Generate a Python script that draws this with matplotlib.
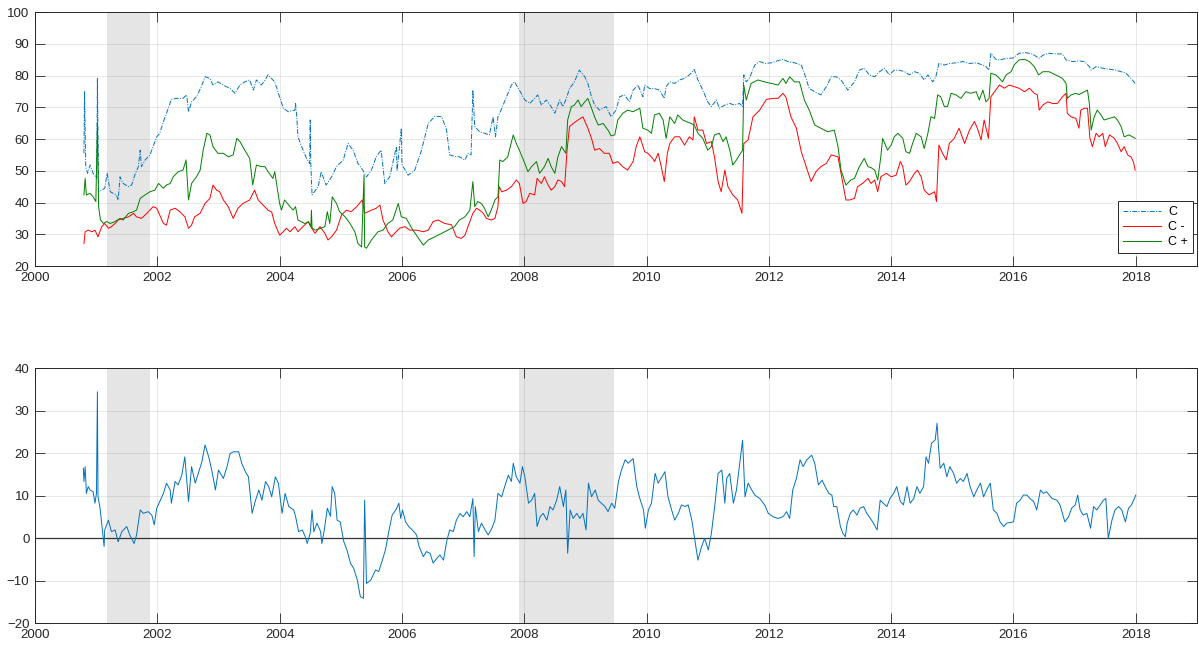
import matplotlib
matplotlib.use("Agg")
import matplotlib.pyplot as plt

plt.rcParams["font.family"] = ["Liberation Sans", "DejaVu Sans"]

# ---------------------------------------------------------------
# Data (decimal years, values)
# ---------------------------------------------------------------
RECESSIONS = [(2001.17, 2001.88), (2007.92, 2009.46)]

c_pts = [
    (2000.80, 55.5), (2000.81, 74.9), (2000.83, 51.3), (2000.86, 49.2), (2000.90, 51.8),
    (2000.95, 49.2), (2001.01, 47.6), (2001.02, 79.1), (2001.04, 43.4), (2001.09, 43.9),
    (2001.14, 44.5), (2001.18, 49.2), (2001.23, 43.4), (2001.28, 42.9), (2001.33, 42.4),
    (2001.36, 40.8), (2001.39, 48.1), (2001.44, 46.0), (2001.53, 45.0), (2001.58, 45.5),
    (2001.63, 48.6), (2001.69, 51.3), (2001.72, 56.5), (2001.74, 51.3), (2001.80, 53.4),
    (2001.88, 55.0), (2001.93, 57.6), (2001.99, 60.7), (2002.04, 61.8), (2002.10, 65.5),
    (2002.15, 68.1), (2002.23, 72.5), (2002.31, 72.8), (2002.42, 72.8), (2002.48, 73.9),
    (2002.51, 68.6), (2002.56, 71.7), (2002.64, 73.3), (2002.72, 76.5), (2002.78, 79.6),
    (2002.86, 79.1), (2002.91, 77.0), (2002.99, 78.0), (2003.08, 77.0), (2003.19, 75.9),
    (2003.27, 74.4), (2003.35, 77.0), (2003.43, 78.0), (2003.51, 78.6), (2003.57, 75.4),
    (2003.62, 78.6), (2003.70, 77.0), (2003.76, 78.5), (2003.81, 80.2), (2003.92, 78.0),
    (2004.00, 73.3), (2004.06, 69.7), (2004.14, 68.6), (2004.25, 69.1), (2004.26, 71.2),
    (2004.28, 67.0), (2004.30, 60.7), (2004.36, 57.6), (2004.44, 53.9), (2004.49, 52.3),
    (2004.50, 66.0), (2004.51, 52.0), (2004.53, 42.4), (2004.63, 45.0), (2004.68, 49.7),
    (2004.76, 45.5), (2004.85, 48.1), (2004.93, 51.3), (2005.04, 53.4), (2005.12, 58.6),
    (2005.20, 56.5), (2005.28, 52.3), (2005.36, 50.2), (2005.42, 48.1), (2005.50, 50.2),
    (2005.58, 54.4), (2005.66, 56.5), (2005.72, 46.0), (2005.80, 48.1), (2005.91, 57.6),
    (2005.92, 50.0), (2005.99, 63.4), (2006.00, 52.0), (2006.02, 51.3), (2006.10, 48.6),
    (2006.21, 50.2), (2006.32, 56.5), (2006.43, 64.9), (2006.54, 67.2), (2006.65, 67.0),
    (2006.73, 62.8), (2006.78, 55.0), (2006.89, 54.4), (2006.94, 54.4), (2007.03, 53.4),
    (2007.08, 55.5), (2007.13, 55.0), (2007.16, 75.4), (2007.19, 63.9), (2007.27, 62.3),
    (2007.35, 61.8), (2007.43, 61.3), (2007.49, 67.0), (2007.53, 60.7), (2007.57, 67.0),
    (2007.62, 69.1), (2007.71, 73.3), (2007.79, 77.0), (2007.84, 78.0), (2007.92, 75.4),
    (2008.01, 72.3), (2008.09, 71.2), (2008.17, 72.8), (2008.22, 73.9), (2008.28, 70.7),
    (2008.36, 72.3), (2008.44, 70.2), (2008.50, 68.1), (2008.58, 72.3), (2008.63, 70.2),
    (2008.69, 72.8), (2008.74, 75.9), (2008.82, 78.0), (2008.90, 81.7), (2008.99, 79.6),
    (2009.04, 77.5), (2009.10, 73.3), (2009.15, 70.7), (2009.23, 69.1), (2009.34, 70.2),
    (2009.42, 67.0), (2009.50, 69.1), (2009.56, 73.3), (2009.64, 73.9), (2009.72, 71.7),
    (2009.78, 75.4), (2009.86, 77.0), (2009.94, 73.3), (2009.97, 77.0), (2010.05, 75.9),
    (2010.13, 75.9), (2010.21, 75.4), (2010.29, 72.8), (2010.32, 76.5), (2010.38, 78.0),
    (2010.46, 77.5), (2010.54, 78.6), (2010.62, 79.1), (2010.70, 80.2), (2010.78, 81.9),
    (2010.84, 78.6), (2010.92, 75.4), (2011.00, 71.7), (2011.06, 70.2), (2011.14, 72.3),
    (2011.19, 69.7), (2011.28, 70.7), (2011.36, 71.2), (2011.44, 70.7), (2011.52, 71.2),
    (2011.57, 70.2), (2011.59, 80.2), (2011.63, 78.0), (2011.68, 79.1), (2011.77, 83.3),
    (2011.85, 84.4), (2011.93, 83.8), (2012.04, 84.0), (2012.15, 84.7), (2012.23, 85.1),
    (2012.31, 84.4), (2012.42, 84.0), (2012.53, 83.3), (2012.58, 80.7), (2012.66, 75.9),
    (2012.75, 74.9), (2012.85, 73.9), (2012.94, 76.5), (2013.02, 79.6), (2013.10, 79.6),
    (2013.18, 78.6), (2013.29, 75.4), (2013.40, 78.0), (2013.48, 81.7), (2013.56, 82.3),
    (2013.64, 80.2), (2013.73, 79.6), (2013.81, 81.2), (2013.89, 82.3), (2013.97, 80.2),
    (2014.05, 81.7), (2014.13, 81.7), (2014.22, 81.2), (2014.30, 80.2), (2014.38, 81.2),
    (2014.46, 80.7), (2014.54, 78.6), (2014.60, 80.2), (2014.68, 78.0), (2014.73, 79.6),
    (2014.78, 83.8), (2014.87, 83.3), (2014.95, 83.8), (2015.06, 84.0), (2015.17, 84.4),
    (2015.28, 83.8), (2015.39, 84.0), (2015.50, 83.3), (2015.55, 82.8), (2015.60, 81.7),
    (2015.63, 87.0), (2015.71, 85.1), (2015.77, 84.9), (2015.88, 85.4), (2015.99, 85.5),
    (2016.09, 87.0), (2016.20, 87.2), (2016.31, 86.8), (2016.42, 85.4), (2016.48, 86.4),
    (2016.58, 87.0), (2016.69, 86.8), (2016.80, 86.8), (2016.86, 84.9), (2016.97, 84.4),
    (2017.07, 84.6), (2017.16, 84.4), (2017.24, 82.8), (2017.27, 81.7), (2017.35, 82.8),
    (2017.46, 82.3), (2017.57, 82.0), (2017.67, 81.7), (2017.76, 81.2), (2017.84, 80.7),
    (2017.92, 79.1), (2017.99, 77.5),
]

cminus_pts = [
    (2000.80, 27.1), (2000.82, 30.8), (2000.87, 31.3), (2000.93, 30.8), (2000.98, 31.3),
    (2001.03, 29.2), (2001.09, 32.4), (2001.14, 33.4), (2001.20, 31.9), (2001.25, 32.4),
    (2001.31, 33.4), (2001.36, 34.5), (2001.44, 35.0), (2001.53, 35.5), (2001.61, 36.6),
    (2001.66, 35.5), (2001.74, 35.0), (2001.83, 36.6), (2001.93, 38.7), (2001.99, 38.2),
    (2002.04, 36.0), (2002.10, 33.4), (2002.15, 32.9), (2002.21, 37.6), (2002.29, 38.2),
    (2002.37, 37.1), (2002.45, 35.5), (2002.51, 31.9), (2002.56, 32.9), (2002.61, 35.5),
    (2002.70, 36.6), (2002.78, 39.7), (2002.86, 41.3), (2002.91, 45.5), (2002.97, 43.9),
    (2003.02, 43.4), (2003.08, 40.8), (2003.16, 38.7), (2003.24, 35.0), (2003.32, 38.2),
    (2003.40, 39.7), (2003.51, 40.8), (2003.59, 43.9), (2003.65, 40.8), (2003.73, 39.2),
    (2003.81, 37.6), (2003.87, 37.0), (2003.92, 33.4), (2004.00, 29.7), (2004.06, 30.8),
    (2004.11, 31.9), (2004.17, 30.8), (2004.25, 32.4), (2004.30, 30.8), (2004.38, 32.4),
    (2004.47, 34.0), (2004.52, 32.0), (2004.58, 30.3), (2004.66, 32.4), (2004.74, 30.3),
    (2004.79, 28.2), (2004.85, 29.2), (2004.93, 31.3), (2005.01, 36.0), (2005.09, 37.6),
    (2005.17, 37.1), (2005.26, 38.7), (2005.35, 40.8), (2005.39, 36.6), (2005.50, 37.6),
    (2005.58, 38.2), (2005.64, 39.2), (2005.69, 34.5), (2005.77, 30.8), (2005.83, 29.2),
    (2005.88, 30.3), (2005.96, 31.9), (2006.05, 32.4), (2006.13, 31.3), (2006.24, 31.3),
    (2006.35, 30.8), (2006.43, 31.3), (2006.51, 34.0), (2006.59, 34.5), (2006.70, 33.4),
    (2006.81, 33.0), (2006.89, 29.2), (2006.97, 28.7), (2007.03, 29.7), (2007.08, 32.4),
    (2007.16, 36.6), (2007.22, 38.2), (2007.27, 37.6), (2007.33, 36.6), (2007.38, 35.0),
    (2007.46, 34.5), (2007.52, 35.0), (2007.57, 38.7), (2007.59, 45.0), (2007.63, 43.4),
    (2007.71, 43.9), (2007.79, 45.0), (2007.87, 47.1), (2007.92, 46.0), (2007.98, 39.7),
    (2008.03, 40.3), (2008.09, 42.9), (2008.17, 42.4), (2008.21, 47.6), (2008.28, 46.0),
    (2008.33, 48.1), (2008.39, 45.5), (2008.44, 43.9), (2008.50, 45.0), (2008.55, 47.1),
    (2008.61, 46.6), (2008.66, 45.0), (2008.70, 56.5), (2008.74, 63.9), (2008.80, 64.9),
    (2008.88, 66.0), (2008.96, 67.0), (2009.04, 63.4), (2009.10, 60.2), (2009.15, 56.5),
    (2009.23, 57.0), (2009.31, 55.5), (2009.39, 55.5), (2009.45, 52.3), (2009.53, 52.9),
    (2009.61, 51.3), (2009.69, 50.2), (2009.78, 52.9), (2009.83, 57.6), (2009.89, 60.7),
    (2009.97, 56.0), (2010.02, 55.5), (2010.10, 53.9), (2010.13, 52.9), (2010.19, 55.5),
    (2010.24, 51.3), (2010.29, 46.6), (2010.34, 55.5), (2010.38, 58.6), (2010.46, 60.7),
    (2010.54, 60.7), (2010.62, 58.1), (2010.70, 60.7), (2010.76, 59.7), (2010.78, 67.0),
    (2010.84, 62.8), (2010.92, 62.8), (2010.98, 58.6), (2011.06, 59.2), (2011.11, 54.4),
    (2011.17, 46.6), (2011.22, 43.4), (2011.28, 50.2), (2011.33, 45.0), (2011.41, 42.4),
    (2011.49, 40.8), (2011.56, 36.6), (2011.59, 58.6), (2011.66, 59.7), (2011.74, 67.0),
    (2011.85, 69.1), (2011.96, 72.5), (2012.07, 72.8), (2012.15, 72.8), (2012.23, 74.4),
    (2012.28, 73.1), (2012.36, 67.0), (2012.45, 63.4), (2012.53, 56.0), (2012.61, 51.3),
    (2012.69, 46.6), (2012.77, 49.7), (2012.85, 51.3), (2012.94, 52.3), (2013.02, 55.0),
    (2013.13, 54.4), (2013.18, 49.2), (2013.26, 40.8), (2013.32, 40.8), (2013.40, 41.3),
    (2013.45, 45.0), (2013.53, 46.0), (2013.62, 47.6), (2013.67, 46.0), (2013.73, 47.1),
    (2013.78, 43.4), (2013.83, 48.1), (2013.92, 49.2), (2014.00, 48.1), (2014.08, 48.6),
    (2014.15, 52.9), (2014.19, 51.3), (2014.24, 45.5), (2014.30, 46.6), (2014.38, 49.2),
    (2014.43, 50.2), (2014.49, 48.1), (2014.54, 43.9), (2014.62, 42.4), (2014.71, 43.4),
    (2014.74, 40.3), (2014.78, 58.1), (2014.84, 55.5), (2014.90, 53.4), (2014.95, 58.6),
    (2015.03, 60.2), (2015.11, 63.4), (2015.20, 58.6), (2015.28, 62.8), (2015.36, 65.5),
    (2015.41, 63.4), (2015.47, 59.7), (2015.52, 66.0), (2015.59, 60.2), (2015.63, 73.3),
    (2015.71, 75.4), (2015.77, 77.0), (2015.85, 76.0), (2015.93, 77.0), (2016.01, 76.5),
    (2016.09, 76.0), (2016.18, 74.9), (2016.26, 76.0), (2016.34, 74.4), (2016.39, 73.9),
    (2016.42, 69.1), (2016.48, 70.7), (2016.56, 71.7), (2016.64, 71.2), (2016.72, 71.2),
    (2016.80, 73.3), (2016.86, 74.4), (2016.88, 68.1), (2016.94, 67.0), (2017.02, 66.5),
    (2017.07, 63.4), (2017.10, 69.1), (2017.16, 69.7), (2017.21, 69.7), (2017.25, 60.2),
    (2017.29, 57.6), (2017.35, 61.8), (2017.40, 60.7), (2017.46, 61.8), (2017.50, 57.6),
    (2017.57, 61.3), (2017.65, 60.2), (2017.70, 58.6), (2017.76, 56.0), (2017.81, 57.6),
    (2017.87, 54.9), (2017.92, 54.4), (2017.96, 52.9), (2017.99, 50.2),
]

cplus_pts = [
    (2000.80, 42.4), (2000.82, 47.6), (2000.84, 42.4), (2000.90, 42.9), (2000.95, 41.8),
    (2000.995, 40.3), (2001.02, 65.0), (2001.04, 38.7), (2001.07, 34.5), (2001.12, 33.4),
    (2001.17, 34.0), (2001.23, 33.4), (2001.31, 34.0), (2001.39, 35.0), (2001.44, 34.5),
    (2001.53, 36.6), (2001.61, 37.1), (2001.66, 37.6), (2001.72, 41.3), (2001.80, 42.4),
    (2001.88, 43.4), (2001.96, 43.9), (2002.02, 46.0), (2002.10, 44.5), (2002.15, 45.5),
    (2002.21, 46.0), (2002.26, 48.1), (2002.34, 49.7), (2002.42, 50.2), (2002.47, 53.4),
    (2002.51, 40.8), (2002.56, 46.0), (2002.64, 48.1), (2002.70, 50.2), (2002.75, 56.5),
    (2002.81, 61.8), (2002.86, 61.3), (2002.91, 57.6), (2002.99, 55.5), (2003.08, 55.5),
    (2003.16, 54.4), (2003.24, 55.0), (2003.30, 60.2), (2003.35, 59.2), (2003.43, 56.5),
    (2003.51, 53.9), (2003.56, 45.5), (2003.62, 51.8), (2003.70, 51.3), (2003.76, 51.3),
    (2003.81, 49.7), (2003.89, 47.6), (2003.92, 49.7), (2004.00, 39.7), (2004.03, 37.6),
    (2004.08, 40.8), (2004.17, 38.7), (2004.22, 37.6), (2004.26, 38.7), (2004.30, 34.5),
    (2004.41, 33.4), (2004.47, 33.9), (2004.51, 32.4), (2004.52, 37.6), (2004.53, 32.0),
    (2004.58, 31.3), (2004.66, 31.8), (2004.74, 32.4), (2004.78, 37.1), (2004.82, 33.4),
    (2004.86, 41.8), (2004.93, 39.7), (2004.98, 37.1), (2005.07, 35.5), (2005.15, 33.4),
    (2005.23, 30.8), (2005.28, 27.1), (2005.34, 26.0), (2005.38, 48.7), (2005.39, 26.0),
    (2005.42, 25.6), (2005.50, 28.2), (2005.61, 30.8), (2005.69, 31.3), (2005.77, 33.4),
    (2005.85, 34.5), (2005.94, 39.7), (2005.99, 35.5), (2006.07, 35.0), (2006.18, 31.3),
    (2006.29, 28.2), (2006.35, 26.6), (2006.43, 28.2), (2006.54, 29.2), (2006.65, 30.3),
    (2006.75, 31.3), (2006.86, 32.4), (2006.94, 34.5), (2007.03, 35.5), (2007.11, 37.6),
    (2007.16, 46.6), (2007.19, 38.7), (2007.24, 40.3), (2007.30, 39.7), (2007.35, 38.2),
    (2007.41, 35.5), (2007.46, 37.6), (2007.52, 40.8), (2007.57, 41.8), (2007.60, 53.4),
    (2007.65, 52.9), (2007.73, 54.4), (2007.82, 61.3), (2007.87, 58.6), (2007.92, 56.5),
    (2008.01, 52.3), (2008.06, 49.7), (2008.12, 51.3), (2008.20, 52.9), (2008.25, 49.2),
    (2008.33, 51.3), (2008.39, 53.9), (2008.44, 51.3), (2008.50, 49.2), (2008.55, 54.4),
    (2008.61, 57.6), (2008.68, 55.5), (2008.71, 66.0), (2008.77, 70.2), (2008.82, 70.7),
    (2008.88, 72.3), (2008.93, 70.2), (2008.99, 71.7), (2009.04, 72.8), (2009.10, 69.7),
    (2009.15, 67.0), (2009.21, 64.4), (2009.29, 64.9), (2009.37, 62.8), (2009.42, 61.0),
    (2009.48, 61.3), (2009.53, 66.0), (2009.61, 68.1), (2009.69, 69.1), (2009.78, 68.6),
    (2009.89, 69.7), (2009.94, 63.4), (2010.02, 62.8), (2010.08, 61.8), (2010.13, 67.6),
    (2010.21, 68.1), (2010.27, 66.0), (2010.32, 60.2), (2010.38, 67.0), (2010.46, 64.9),
    (2010.51, 67.6), (2010.59, 66.0), (2010.65, 65.5), (2010.73, 64.9), (2010.78, 64.4),
    (2010.84, 61.8), (2010.92, 60.2), (2011.00, 56.5), (2011.06, 57.6), (2011.11, 61.3),
    (2011.19, 61.8), (2011.25, 59.2), (2011.30, 60.7), (2011.36, 56.5), (2011.41, 51.8),
    (2011.47, 53.4), (2011.52, 55.0), (2011.57, 56.5), (2011.59, 77.0), (2011.63, 72.3),
    (2011.71, 77.5), (2011.82, 78.6), (2011.93, 78.0), (2012.04, 77.5), (2012.15, 77.0),
    (2012.23, 79.1), (2012.28, 77.5), (2012.34, 79.6), (2012.42, 78.0), (2012.50, 78.0),
    (2012.58, 72.3), (2012.66, 69.1), (2012.75, 64.4), (2012.85, 63.4), (2012.96, 62.3),
    (2013.07, 62.8), (2013.13, 57.6), (2013.18, 50.2), (2013.26, 45.5), (2013.34, 47.1),
    (2013.40, 47.6), (2013.48, 51.3), (2013.56, 53.9), (2013.62, 51.3), (2013.67, 51.0),
    (2013.73, 50.2), (2013.78, 47.1), (2013.83, 54.4), (2013.86, 60.2), (2013.94, 56.5),
    (2014.00, 58.1), (2014.05, 60.7), (2014.11, 61.8), (2014.19, 60.2), (2014.24, 56.0),
    (2014.30, 55.5), (2014.35, 58.6), (2014.41, 61.8), (2014.49, 60.7), (2014.54, 57.0),
    (2014.60, 61.8), (2014.65, 67.0), (2014.71, 66.5), (2014.76, 73.9), (2014.81, 73.3),
    (2014.87, 70.2), (2014.92, 70.2), (2014.98, 74.4), (2015.06, 73.9), (2015.14, 72.8),
    (2015.22, 74.9), (2015.30, 74.4), (2015.39, 74.9), (2015.44, 72.3), (2015.50, 75.4),
    (2015.55, 71.7), (2015.60, 72.8), (2015.63, 80.7), (2015.71, 80.2), (2015.77, 79.1),
    (2015.82, 78.0), (2015.88, 80.2), (2015.96, 81.2), (2016.01, 83.3), (2016.09, 84.9),
    (2016.18, 85.1), (2016.26, 84.4), (2016.34, 82.8), (2016.41, 80.2), (2016.48, 81.2),
    (2016.58, 81.2), (2016.69, 80.2), (2016.80, 79.1), (2016.86, 77.5), (2016.88, 72.8),
    (2016.94, 73.9), (2017.02, 74.4), (2017.07, 74.0), (2017.16, 74.9), (2017.21, 75.4),
    (2017.24, 71.2), (2017.27, 62.8), (2017.32, 67.0), (2017.37, 69.1), (2017.43, 67.6),
    (2017.48, 66.0), (2017.57, 66.5), (2017.65, 67.0), (2017.70, 66.0), (2017.76, 63.9),
    (2017.81, 60.7), (2017.89, 61.3), (2017.99, 60.2),
]

spread_pts = [
    (2000.79, 16.4), (2000.80, 13.3), (2000.82, 16.8), (2000.84, 10.5), (2000.87, 12.1),
    (2000.90, 11.3), (2000.95, 10.9), (2000.98, 8.2), (2001.005, 10.5), (2001.02, 34.4),
    (2001.03, 9.7), (2001.06, 7.4), (2001.09, 3.5), (2001.13, -2.0), (2001.14, 1.9),
    (2001.20, 4.2), (2001.25, 1.5), (2001.31, 1.9), (2001.36, -0.9), (2001.42, 1.5),
    (2001.50, 2.7), (2001.55, 0.7), (2001.62, -1.3), (2001.66, 0.7), (2001.72, 6.6),
    (2001.77, 5.8), (2001.85, 6.2), (2001.91, 5.4), (2001.95, 3.1), (2001.99, 7.0),
    (2002.04, 8.6), (2002.10, 10.5), (2002.15, 12.9), (2002.21, 11.3), (2002.23, 8.2),
    (2002.29, 13.3), (2002.34, 12.5), (2002.40, 14.8), (2002.45, 19.1), (2002.51, 8.6),
    (2002.56, 16.8), (2002.62, 12.9), (2002.67, 15.2), (2002.73, 18.0), (2002.78, 21.9),
    (2002.84, 19.1), (2002.89, 16.0), (2002.95, 11.3), (2003.00, 16.0), (2003.08, 14.0),
    (2003.14, 16.8), (2003.19, 19.9), (2003.25, 20.3), (2003.33, 20.3), (2003.38, 17.6),
    (2003.44, 15.6), (2003.49, 14.4), (2003.55, 5.8), (2003.60, 8.6), (2003.66, 11.3),
    (2003.71, 8.9), (2003.77, 13.3), (2003.82, 12.1), (2003.87, 9.7), (2003.93, 14.4),
    (2003.98, 12.9), (2004.04, 5.8), (2004.09, 10.5), (2004.15, 7.4), (2004.23, 6.6),
    (2004.26, 5.1), (2004.31, 1.5), (2004.37, 1.9), (2004.42, 0.3), (2004.45, -1.3),
    (2004.50, 1.1), (2004.53, 6.6), (2004.56, 1.5), (2004.61, 3.5), (2004.67, 1.5),
    (2004.69, -1.3), (2004.73, 1.9), (2004.78, 7.0), (2004.83, 5.1), (2004.86, 12.1),
    (2004.90, 10.5), (2004.94, 4.2), (2004.99, 3.8), (2005.05, -0.9), (2005.10, -2.8),
    (2005.16, -6.0), (2005.21, -7.1), (2005.27, -9.9), (2005.32, -13.8), (2005.37, -14.2),
    (2005.39, 8.9), (2005.42, -10.7), (2005.49, -9.9), (2005.57, -7.5), (2005.62, -7.9),
    (2005.68, -5.2), (2005.73, -2.8), (2005.79, 1.9), (2005.84, 5.4), (2005.90, 6.6),
    (2005.95, 8.2), (2005.98, 4.6), (2006.01, 6.6), (2006.06, 3.8), (2006.11, 2.7),
    (2006.17, 1.9), (2006.24, 0.7), (2006.28, -2.0), (2006.35, -4.4), (2006.40, -3.2),
    (2006.46, -3.6), (2006.51, -5.9), (2006.57, -4.8), (2006.62, -4.0), (2006.68, -5.2),
    (2006.73, -0.9), (2006.78, 1.9), (2006.84, 1.5), (2006.89, 4.2), (2006.95, 5.8),
    (2007.00, 5.0), (2007.06, 6.2), (2007.11, 5.0), (2007.16, 9.3), (2007.18, -4.4),
    (2007.20, 7.4), (2007.25, 1.5), (2007.30, 3.5), (2007.36, 1.9), (2007.41, 0.7),
    (2007.47, 2.3), (2007.52, 4.2), (2007.57, 10.5), (2007.63, 9.7), (2007.68, 12.1),
    (2007.74, 14.8), (2007.79, 13.3), (2007.82, 17.6), (2007.87, 14.4), (2007.93, 12.9),
    (2007.97, 16.8), (2008.01, 14.4), (2008.07, 8.2), (2008.12, 8.9), (2008.17, 10.5),
    (2008.21, 2.7), (2008.26, 5.0), (2008.31, 5.8), (2008.37, 4.2), (2008.42, 7.4),
    (2008.47, 6.6), (2008.53, 8.9), (2008.58, 12.1), (2008.64, 7.4), (2008.68, 11.3),
    (2008.71, -3.6), (2008.75, 6.6), (2008.80, 4.6), (2008.86, 5.8), (2008.91, 4.6),
    (2008.96, 5.8), (2009.01, 1.9), (2009.05, 12.9), (2009.10, 9.7), (2009.16, 11.3),
    (2009.21, 8.9), (2009.26, 8.2), (2009.32, 7.4), (2009.37, 6.2), (2009.43, 8.2),
    (2009.48, 7.0), (2009.54, 13.3), (2009.59, 16.0), (2009.65, 18.4), (2009.70, 17.6),
    (2009.78, 18.7), (2009.84, 12.1), (2009.89, 9.3), (2009.95, 6.6), (2009.98, 2.3),
    (2010.03, 6.6), (2010.08, 8.2), (2010.14, 15.2), (2010.19, 12.9), (2010.25, 14.4),
    (2010.30, 15.6), (2010.35, 9.7), (2010.41, 6.6), (2010.46, 4.2), (2010.52, 5.8),
    (2010.57, 7.8), (2010.63, 7.4), (2010.68, 7.8), (2010.74, 4.2), (2010.79, -0.5),
    (2010.84, -5.2), (2010.90, -2.0), (2010.95, -0.1), (2011.01, -2.8), (2011.06, 1.1),
    (2011.12, 8.2), (2011.17, 15.2), (2011.23, 16.0), (2011.28, 8.2), (2011.31, 14.0),
    (2011.36, 15.2), (2011.42, 8.2), (2011.47, 11.3), (2011.53, 18.4), (2011.57, 23.0),
    (2011.61, 9.7), (2011.66, 12.9), (2011.72, 11.3), (2011.77, 10.1), (2011.85, 9.3),
    (2011.93, 7.8), (2011.99, 5.8), (2012.07, 5.0), (2012.15, 4.6), (2012.23, 5.0),
    (2012.29, 6.2), (2012.34, 4.6), (2012.39, 11.3), (2012.45, 14.0), (2012.51, 18.4),
    (2012.56, 16.8), (2012.62, 18.4), (2012.70, 19.5), (2012.75, 17.6), (2012.81, 12.5),
    (2012.87, 13.6), (2012.92, 12.1), (2012.98, 10.5), (2013.03, 10.1), (2013.06, 7.4),
    (2013.11, 7.4), (2013.17, 2.7), (2013.21, 1.1), (2013.25, 0.3), (2013.28, 3.5),
    (2013.33, 5.8), (2013.38, 6.6), (2013.44, 5.4), (2013.49, 7.0), (2013.55, 7.4),
    (2013.60, 5.8), (2013.66, 4.6), (2013.71, 3.5), (2013.77, 1.9), (2013.82, 8.9),
    (2013.87, 8.2), (2013.93, 7.4), (2013.98, 9.3), (2014.04, 10.5), (2014.09, 12.1),
    (2014.15, 8.6), (2014.20, 7.8), (2014.26, 12.1), (2014.31, 8.2), (2014.37, 9.3),
    (2014.42, 12.1), (2014.47, 10.5), (2014.53, 12.1), (2014.57, 19.1), (2014.61, 17.6),
    (2014.66, 22.3), (2014.72, 23.1), (2014.75, 27.0), (2014.77, 22.3), (2014.80, 16.4),
    (2014.86, 17.6), (2014.91, 14.4), (2014.96, 16.8), (2015.02, 15.2), (2015.07, 12.9),
    (2015.13, 14.0), (2015.18, 13.3), (2015.24, 15.2), (2015.29, 12.1), (2015.35, 9.7),
    (2015.40, 11.3), (2015.46, 12.9), (2015.51, 9.7), (2015.56, 11.3), (2015.62, 12.9),
    (2015.67, 6.6), (2015.73, 5.8), (2015.78, 3.8), (2015.84, 2.7), (2015.89, 3.5),
    (2016.00, 3.8), (2016.05, 8.2), (2016.11, 8.9), (2016.16, 10.1), (2016.22, 10.1),
    (2016.27, 9.3), (2016.33, 8.6), (2016.38, 6.6), (2016.44, 11.3), (2016.49, 10.5),
    (2016.54, 10.9), (2016.63, 9.3), (2016.71, 8.9), (2016.76, 7.8), (2016.84, 3.8),
    (2016.90, 5.0), (2016.95, 7.0), (2017.01, 7.8), (2017.05, 10.1), (2017.09, 6.6),
    (2017.14, 5.4), (2017.20, 5.8), (2017.26, 2.3), (2017.31, 7.4), (2017.36, 6.6),
    (2017.42, 7.8), (2017.47, 8.9), (2017.51, 9.3), (2017.55, -0.1), (2017.61, 4.2),
    (2017.66, 6.6), (2017.72, 7.4), (2017.77, 6.6), (2017.83, 3.8), (2017.88, 7.0),
    (2017.93, 7.8), (2018.00, 10.1),
]

X_TICKS = list(range(2000, 2019, 2))
TOP_YTICKS = list(range(20, 101, 10))
BOT_YTICKS = list(range(-20, 41, 10))

# ---------------------------------------------------------------
# Styling helpers
# ---------------------------------------------------------------
AX_COL = "#262626"
SHADE = "#e5e5e5"


def _split(pts):
    return [p[0] for p in pts], [p[1] for p in pts]


def _style(ax, yticks):
    ax.set_xlim(2000, 2019)
    ax.set_xticks(X_TICKS)
    ax.set_yticks(yticks)
    ax.set_ylim(yticks[0], yticks[-1])
    for s in ax.spines.values():
        s.set_color(AX_COL)
        s.set_linewidth(0.7)
    ax.tick_params(direction="in", length=7, width=0.6, colors=AX_COL,
                   labelsize=9.5, top=True, right=True, pad=4)
    ax.grid(True, color=AX_COL, alpha=0.12, linewidth=0.6)
    for a, b in RECESSIONS:
        ax.axvspan(a, b, color=SHADE, lw=0, zorder=0)


fig = plt.figure(figsize=(11.99, 6.46), dpi=100)
ax1 = fig.add_axes([0.0292, 0.5882, 0.9691, 0.3932])
ax2 = fig.add_axes([0.0292, 0.0356, 0.9691, 0.3947])

_style(ax1, TOP_YTICKS)
_style(ax2, BOT_YTICKS)

t, v = _split(c_pts)
ax1.plot(t, v, linestyle=(0, (5, 1.5, 1, 1.5)), color="#0072BD", lw=0.7,
         label="C", zorder=3)
t, v = _split(cminus_pts)
ax1.plot(t, v, color="#ff0000", lw=0.7, label="C -", zorder=3)
t, v = _split(cplus_pts)
ax1.plot(t, v, color="#008000", lw=0.7, label="C +", zorder=3)

leg = ax1.legend(loc="lower right", bbox_to_anchor=(0.9966, 0.05), fontsize=9,
                 frameon=True, fancybox=False, framealpha=1, edgecolor=AX_COL,
                 handlelength=3.0, borderpad=0.4, labelspacing=0.25,
                 handletextpad=0.6, borderaxespad=0.0)
leg.get_frame().set_linewidth(0.7)

t, v = _split(spread_pts)
ax2.plot(t, v, color="#0072BD", lw=0.7, zorder=3)
ax2.axhline(0, color="#333333", lw=0.9, zorder=2)

fig.savefig("out.png", dpi=100)
